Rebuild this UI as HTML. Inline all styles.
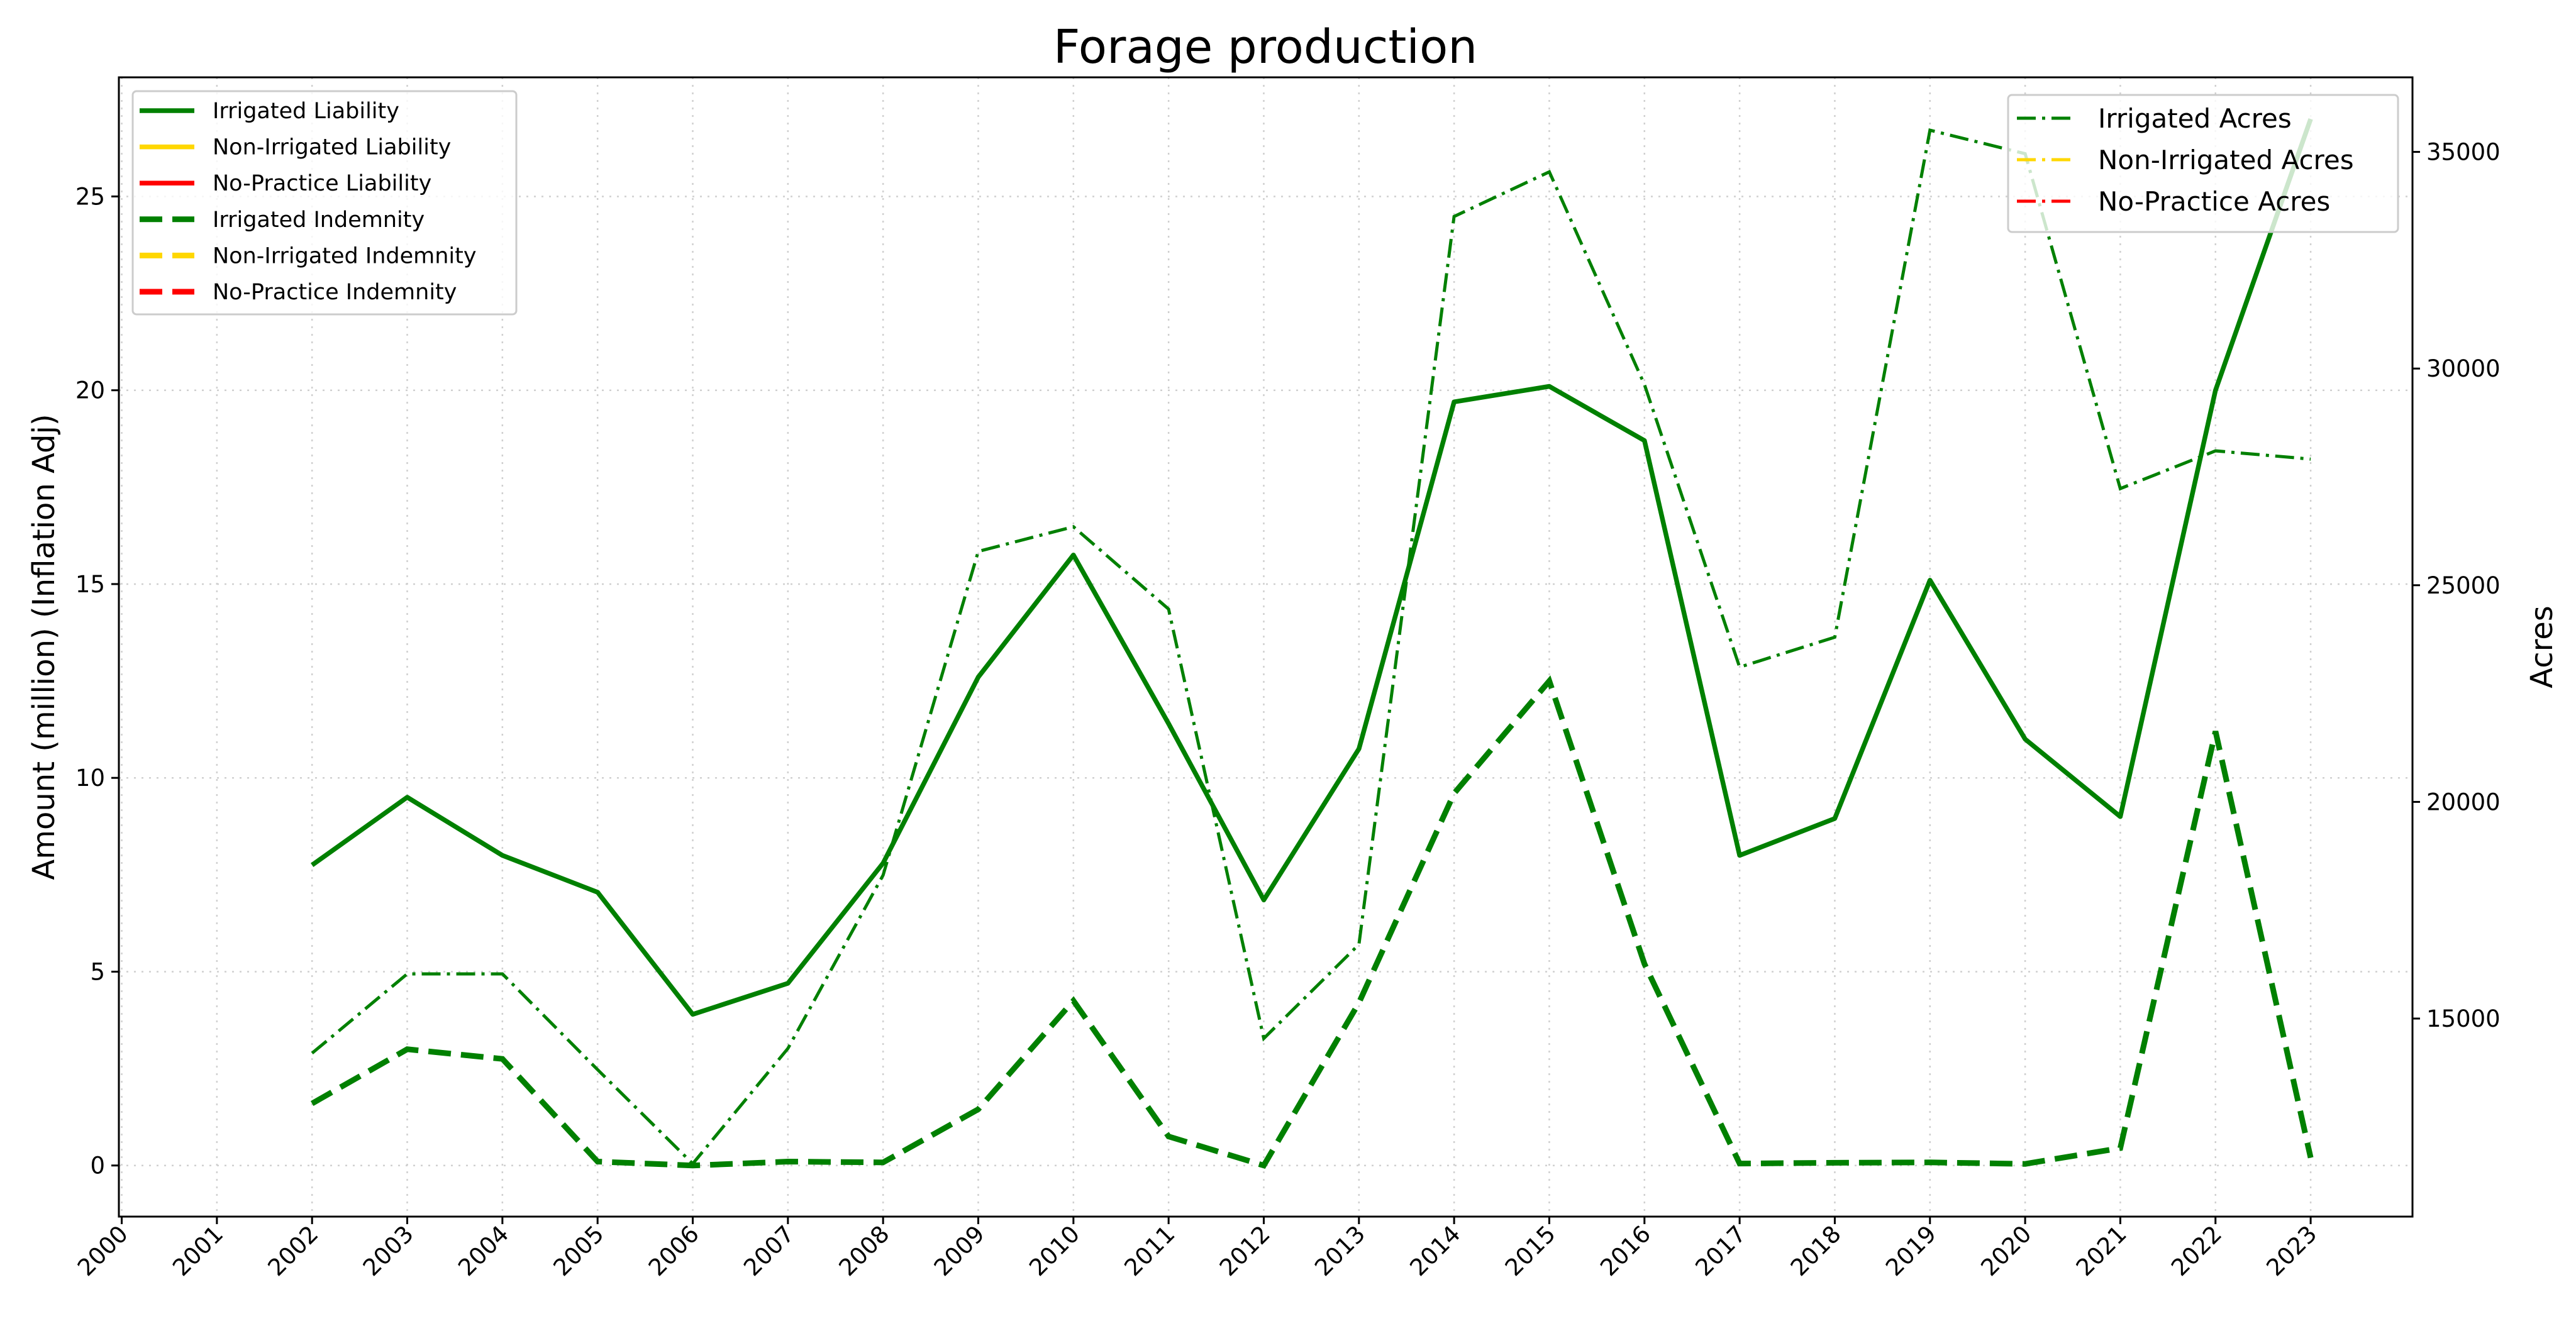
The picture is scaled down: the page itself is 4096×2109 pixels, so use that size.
<!DOCTYPE html>
<html><head><meta charset="utf-8"><style>html,body{margin:0;padding:0;background:#fff}svg{display:block}text{font-family:"DejaVu Sans","Liberation Sans",sans-serif;fill:#000}</style></head>
<body>
<svg id="chart" width="4096" height="2109" viewBox="0 0 4096 2109" xmlns="http://www.w3.org/2000/svg">
<rect width="4096" height="2109" fill="#fff"/>
<g id="grid"></g>
<g id="series"></g>
<rect x="189" y="123" width="3647" height="1812" fill="none" stroke="#000" stroke-width="3"/>
<g id="axes"></g>
<text x="2012" y="100" font-size="74" text-anchor="middle">Forage production</text>
<text transform="translate(86,1029) rotate(-90)" font-size="48" text-anchor="middle">Amount (million) (Inflation Adj)</text>
<text transform="translate(4058,1029) rotate(-90)" font-size="48" text-anchor="middle">Acres</text>
<g id="legend-left"></g>
<g id="legend-right"></g>
</svg>
<script>
const years = [2002,2003,2004,2005,2006,2007,2008,2009,2010,2011,2012,2013,2014,2015,2016,2017,2018,2019,2020,2021,2022,2023];
const irrigatedLiability = [7.75,9.5,8.0,7.05,3.9,4.7,7.8,12.6,15.75,11.4,6.85,10.75,19.7,20.1,18.7,8.0,8.95,15.1,11.0,9.0,20.0,27.0];
const irrigatedIndemnity = [1.6,3.0,2.75,0.1,0.0,0.1,0.08,1.45,4.25,0.75,0.0,4.2,9.6,12.5,5.2,0.05,0.07,0.08,0.04,0.45,11.2,0.2];
const irrigatedAcres = [14200,16030,16030,13820,11650,14310,18310,25780,26350,24450,14540,16710,33510,34540,29630,23110,23800,35500,34960,27230,28100,27910];
const xTicks = [2000,2001,2002,2003,2004,2005,2006,2007,2008,2009,2010,2011,2012,2013,2014,2015,2016,2017,2018,2019,2020,2021,2022,2023];
const yTicks = [0,5,10,15,20,25];
const y2Ticks = [15000,20000,25000,30000,35000];
const leftLegend = ["Irrigated Liability","Non-Irrigated Liability","No-Practice Liability","Irrigated Indemnity","Non-Irrigated Indemnity","No-Practice Indemnity"];
const rightLegend = ["Irrigated Acres","Non-Irrigated Acres","No-Practice Acres"];

const L=189,R=3836,T=123,B=1935;
const X=v=>L+(v-1999.97)*(R-L)/24.1;
const Y=v=>1853.7-v*61.65;
const Y2=v=>241.6+(35000-v)*0.06892;
const NS="http://www.w3.org/2000/svg";
function mk(tag,attrs,parent){const e=document.createElementNS(NS,tag);for(const k in attrs)e.setAttribute(k,attrs[k]);parent.appendChild(e);return e;}
const grid=document.getElementById('grid'),axes=document.getElementById('axes'),series=document.getElementById('series');

xTicks.forEach(t=>{
  const x=X(t);
  const g=mk('line',{x1:x,x2:x,y1:T,y2:B,stroke:'#d0d0d0','stroke-width':2.5,'stroke-dasharray':'3,9'},grid);
  
  
  const tk=mk('line',{x1:x,x2:x,y1:B,y2:B+12,stroke:'#000','stroke-width':3},axes);
  
  
  const tx=mk('text',{transform:`translate(${x+12},${B+30}) rotate(-45)`,'font-size':37,'text-anchor':'end'},axes);
  
  
  tx.textContent=t;
});
yTicks.forEach(t=>{
  const y=Y(t);
  const g=mk('line',{x1:L,x2:R,y1:y,y2:y,stroke:'#d0d0d0','stroke-width':2.5,'stroke-dasharray':'3,9'},grid);
  
  
  const tk=mk('line',{x1:L-12,x2:L,y1:y,y2:y,stroke:'#000','stroke-width':3},axes);
  
  
  const tx=mk('text',{x:L-22,y:y+13,'font-size':37,'text-anchor':'end'},axes);
  
  
  tx.textContent=t;
});
y2Ticks.forEach(t=>{
  const y=Y2(t);
  const tk=mk('line',{x1:R,x2:R+12,y1:y,y2:y,stroke:'#000','stroke-width':3},axes);
  
  
  const tx=mk('text',{x:R+22,y:y+13,'font-size':37},axes);
  
  
  tx.textContent=t;
});

function path(vals,yf){return vals.map((v,i)=>(i?'L':'M')+X(years[i]).toFixed(1)+','+yf(v).toFixed(1)).join(' ');}
const p1=mk('path',{d:path(irrigatedAcres,Y2),fill:'none',stroke:'#008000','stroke-width':5,'stroke-dasharray':'30,10,5,10'},series);


const p2=mk('path',{d:path(irrigatedLiability,Y),fill:'none',stroke:'#008000','stroke-width':7.5,'stroke-linejoin':'round'},series);


const p3=mk('path',{d:path(irrigatedIndemnity,Y),fill:'none',stroke:'#008000','stroke-width':9,'stroke-dasharray':'36,16'},series);



const colors=['#008000','#ffd700','#ff0000'];
const ll=document.getElementById('legend-left');
const lb=mk('rect',{x:211,y:145,width:610,height:355,rx:6,fill:'#fff','fill-opacity':0.8,stroke:'#ccc','stroke-width':3},ll);


leftLegend.forEach((s,i)=>{
  const y=176+i*57.6;
  const ln=mk('line',{x1:222,x2:309,y1:y,y2:y,stroke:colors[i%3],'stroke-width':i<3?7.5:9,'stroke-dasharray':i<3?'none':'36,16'},ll);
  
  
  const tx=mk('text',{x:338,y:y+12,'font-size':35},ll);
  
  
  tx.textContent=s;
});
const lr=document.getElementById('legend-right');
const rb=mk('rect',{x:3193,y:151,width:620,height:218,rx:6,fill:'#fff','fill-opacity':0.8,stroke:'#ccc','stroke-width':3},lr);


rightLegend.forEach((s,i)=>{
  const y=188+i*66;
  const ln=mk('line',{x1:3193+14,x2:3193+108,y1:y,y2:y,stroke:colors[i],'stroke-width':5,'stroke-dasharray':'30,10,5,10'},lr);
  
  
  const tx=mk('text',{x:3336,y:y+15,'font-size':42},lr);
  
  
  tx.textContent=s;
});
</script>
</body></html>
